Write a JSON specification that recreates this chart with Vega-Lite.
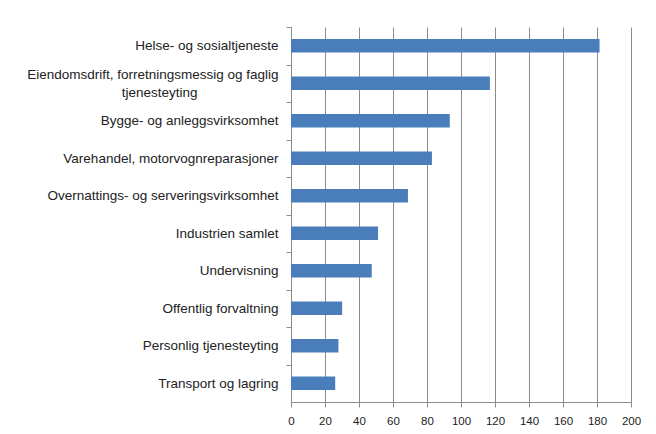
{
  "$schema": "https://vega.github.io/schema/vega-lite/v6.json",
  "width": 340,
  "height": 375,
  "autosize": "none",
  "padding": {"left": 291, "top": 27, "right": 25, "bottom": 32},
  "background": "white",
  "config": {
    "view": {"stroke": null},
    "font": "Liberation Sans",
    "axis": {"labelFont": "Liberation Sans", "labelColor": "#222222"}
  },
  "data": {
    "values": [
      {"sektor": "Helse- og sosialtjeneste", "verdi": 181.5},
      {"sektor": "Eiendomsdrift, forretningsmessig og faglig tjenesteyting", "verdi": 117},
      {"sektor": "Bygge- og anleggsvirksomhet", "verdi": 93.4},
      {"sektor": "Varehandel, motorvognreparasjoner", "verdi": 82.9},
      {"sektor": "Overnattings- og serveringsvirksomhet", "verdi": 68.8},
      {"sektor": "Industrien samlet", "verdi": 51.2},
      {"sektor": "Undervisning", "verdi": 47.5},
      {"sektor": "Offentlig forvaltning", "verdi": 30.1},
      {"sektor": "Personlig tjenesteyting", "verdi": 27.9},
      {"sektor": "Transport og lagring", "verdi": 26}
    ]
  },
  "mark": {"type": "bar", "color": "#4a7ebb"},
  "encoding": {
    "y": {
      "field": "sektor",
      "type": "nominal",
      "sort": null,
      "scale": {"paddingInner": 0.64, "paddingOuter": 0.32},
      "axis": {
        "title": null,
        "orient": "left",
        "ticks": true,
        "tickOffset": -18.75,
        "tickSize": 5,
        "tickColor": "#8c8c8c",
        "domain": true,
        "domainColor": "#8c8c8c",
        "labelPadding": 8,
        "labelFontSize": 13.5,
        "labelLimit": 320,
        "labelLineHeight": 18,
        "labelOffset": {"condition": {"test": "datum.value == 'Eiendomsdrift, forretningsmessig og faglig tjenesteyting'", "value": 9.75}, "value": 18.75},
        "labelExpr": "datum.value == 'Eiendomsdrift, forretningsmessig og faglig tjenesteyting' ? ['Eiendomsdrift, forretningsmessig og faglig', 'tjenesteyting\u2002\u2002\u2002\u2002\u2002\u2002\u2002\u2002\u2002\u2002\u2002\u2002\u200b'] : datum.label"
      }
    },
    "x": {
      "field": "verdi",
      "type": "quantitative",
      "scale": {"domain": [0, 200], "nice": false},
      "axis": {
        "title": null,
        "values": [0, 20, 40, 60, 80, 100, 120, 140, 160, 180, 200],
        "grid": true,
        "gridColor": "#8c8c8c",
        "gridWidth": 1,
        "gridOpacity": 1,
        "domainColor": "#8c8c8c",
        "tickColor": "#8c8c8c",
        "tickSize": 5,
        "labelPadding": 8,
        "labelFontSize": 11.5,
        "labelFlush": false
      }
    }
  }
}
